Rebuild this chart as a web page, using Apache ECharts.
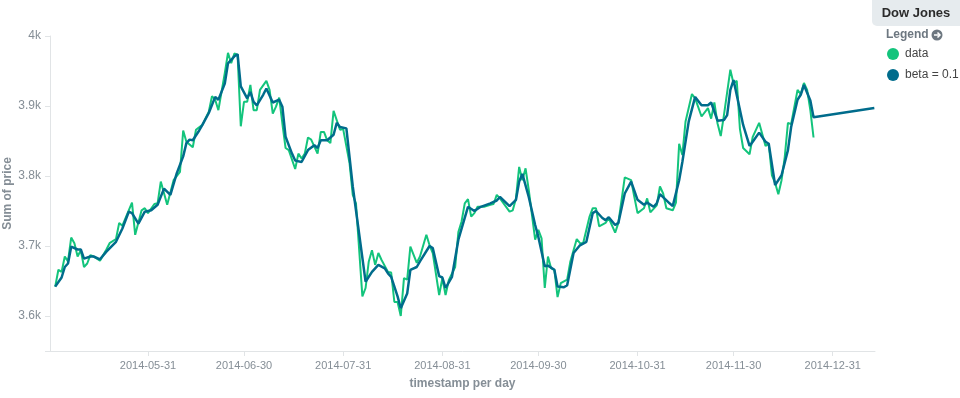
<!DOCTYPE html>
<html>
<head>
<meta charset="utf-8">
<style>
  html, body { margin: 0; padding: 0; background: #fff; }
  #chart { width: 960px; height: 398px; }
</style>
<script src="https://cdn.jsdelivr.net/npm/echarts@6/dist/echarts.min.js"></script>
</head>
<body>
<div id="chart"></div>
<script>
// daily "Sum of price" for the Dow Jones series
const dataDates = [
  '2014-05-02','2014-05-03','2014-05-04','2014-05-05','2014-05-06','2014-05-07','2014-05-08','2014-05-09','2014-05-10','2014-05-11','2014-05-12','2014-05-13','2014-05-14','2014-05-16','2014-05-18','2014-05-19','2014-05-21','2014-05-22','2014-05-23','2014-05-26','2014-05-27','2014-05-29','2014-05-30','2014-05-31',
  '2014-06-02','2014-06-03','2014-06-04','2014-06-06','2014-06-08','2014-06-10','2014-06-11','2014-06-12','2014-06-14','2014-06-15','2014-06-17','2014-06-19','2014-06-20','2014-06-21','2014-06-22','2014-06-24','2014-06-25','2014-06-26','2014-06-27','2014-06-28','2014-06-29','2014-06-30',
  '2014-07-01','2014-07-02','2014-07-03','2014-07-04','2014-07-05','2014-07-07','2014-07-08','2014-07-09','2014-07-10','2014-07-11','2014-07-12','2014-07-13','2014-07-14','2014-07-16','2014-07-17','2014-07-18','2014-07-19','2014-07-20','2014-07-21','2014-07-23','2014-07-24','2014-07-25','2014-07-26','2014-07-27','2014-07-28','2014-07-30','2014-07-31',
  '2014-08-02','2014-08-03','2014-08-04','2014-08-06','2014-08-07','2014-08-08','2014-08-09','2014-08-10','2014-08-11','2014-08-12','2014-08-14','2014-08-15','2014-08-16','2014-08-17','2014-08-18','2014-08-19','2014-08-20','2014-08-21','2014-08-23','2014-08-24','2014-08-26','2014-08-27','2014-08-28','2014-08-30','2014-08-31',
  '2014-09-01','2014-09-02','2014-09-04','2014-09-05','2014-09-06','2014-09-07','2014-09-08','2014-09-09','2014-09-10','2014-09-11','2014-09-13','2014-09-15','2014-09-16','2014-09-17','2014-09-18','2014-09-21','2014-09-22','2014-09-23','2014-09-24','2014-09-25','2014-09-26','2014-09-27','2014-09-29','2014-09-30',
  '2014-10-01','2014-10-02','2014-10-03','2014-10-04','2014-10-05','2014-10-06','2014-10-07','2014-10-09','2014-10-10','2014-10-12','2014-10-13','2014-10-14','2014-10-16','2014-10-17','2014-10-18','2014-10-19','2014-10-21','2014-10-22','2014-10-24','2014-10-25','2014-10-27','2014-10-29','2014-10-30','2014-10-31',
  '2014-11-02','2014-11-03','2014-11-04','2014-11-06','2014-11-07','2014-11-08','2014-11-09','2014-11-11','2014-11-12','2014-11-13','2014-11-14','2014-11-15','2014-11-17','2014-11-18','2014-11-20','2014-11-22','2014-11-23','2014-11-24','2014-11-25','2014-11-26','2014-11-27','2014-11-29','2014-11-30',
  '2014-12-01','2014-12-02','2014-12-03','2014-12-05','2014-12-06','2014-12-08','2014-12-10','2014-12-11','2014-12-12','2014-12-13','2014-12-14','2014-12-15','2014-12-16','2014-12-17','2014-12-18','2014-12-20','2014-12-21','2014-12-22','2014-12-23','2014-12-24','2014-12-25'
];
const dataValues = [
  3642,3666,3663,3685,3678,3712,3704,3685,3694,3670,3675,3687,3685,3679,3695,3704,3710,3733,3729,3762,3716,3751,3754,3747,
  3760,3761,3792,3759,3794,3806,3865,3849,3841,3866,3873,3892,3914,3909,3894,3947,3976,3961,3975,3973,3871,3906,
  3906,3930,3894,3894,3923,3936,3923,3889,3899,3912,3875,3840,3837,3810,3832,3825,3832,3855,3852,3832,3863,3863,3851,3847,3893,3866,3867,
  3818,3773,3761,3628,3640,3678,3694,3673,3690,3680,3663,3662,3620,3620,3600,3654,3652,3699,3676,3685,3716,3701,3690,3630,3654,
  3630,3651,3670,3720,3735,3761,3767,3742,3747,3756,3756,3759,3760,3773,3768,3749,3751,3768,3813,3794,3811,3780,3709,3723,
  3711,3640,3685,3668,3666,3627,3647,3652,3678,3710,3704,3704,3742,3754,3754,3728,3733,3740,3719,3733,3798,3794,3770,3747,
  3754,3768,3748,3758,3785,3775,3754,3751,3762,3846,3830,3878,3917,3911,3885,3897,3882,3905,3875,3857,3887,3952,3932,
  3936,3867,3840,3831,3856,3876,3843,3846,3801,3790,3774,3794,3827,3876,3874,3923,3917,3933,3923,3894,3855
];

// smoothed series (beta = 0.1), runs on past the data as a forecast
const betaDates = [
  '2014-05-02','2014-05-04','2014-05-05','2014-05-06','2014-05-07','2014-05-09','2014-05-10','2014-05-11','2014-05-13','2014-05-14','2014-05-16','2014-05-18','2014-05-21','2014-05-23','2014-05-25','2014-05-26','2014-05-28','2014-05-30',
  '2014-06-01','2014-06-03','2014-06-05','2014-06-07','2014-06-09','2014-06-11','2014-06-12','2014-06-13','2014-06-14','2014-06-16','2014-06-17','2014-06-19','2014-06-21','2014-06-22','2014-06-24','2014-06-25','2014-06-27','2014-06-28','2014-06-29',
  '2014-07-01','2014-07-02','2014-07-03','2014-07-04','2014-07-06','2014-07-07','2014-07-09','2014-07-11','2014-07-12','2014-07-13','2014-07-15','2014-07-16','2014-07-18','2014-07-20','2014-07-22','2014-07-23','2014-07-24','2014-07-26','2014-07-28','2014-07-29','2014-07-30',
  '2014-08-01','2014-08-03','2014-08-07','2014-08-09','2014-08-10','2014-08-11','2014-08-13','2014-08-14','2014-08-15','2014-08-17','2014-08-18','2014-08-20','2014-08-21','2014-08-23','2014-08-24','2014-08-27','2014-08-28','2014-08-30','2014-08-31',
  '2014-09-01','2014-09-03','2014-09-05','2014-09-08','2014-09-10','2014-09-12','2014-09-15','2014-09-17','2014-09-18','2014-09-21','2014-09-23','2014-09-24','2014-09-25','2014-09-27','2014-09-29','2014-09-30',
  '2014-10-02','2014-10-03','2014-10-05','2014-10-06','2014-10-08','2014-10-09','2014-10-11','2014-10-13','2014-10-15','2014-10-17','2014-10-18','2014-10-20','2014-10-21','2014-10-22','2014-10-24','2014-10-25','2014-10-27','2014-10-29','2014-10-31',
  '2014-11-02','2014-11-03','2014-11-05','2014-11-06','2014-11-07','2014-11-10','2014-11-11','2014-11-13','2014-11-14','2014-11-16','2014-11-18','2014-11-20','2014-11-22','2014-11-23','2014-11-25','2014-11-27','2014-11-28','2014-11-29','2014-11-30',
  '2014-12-03','2014-12-05','2014-12-06','2014-12-08','2014-12-10','2014-12-11','2014-12-13','2014-12-15','2014-12-17','2014-12-18','2014-12-20','2014-12-21','2014-12-22','2014-12-24','2014-12-25',
  '2015-01-13'
];
const betaValues = [
  3642,3655,3670,3675,3699,3695,3695,3682,3685,3685,3681,3692,3706,3725,3749,3747,3732,3749,
  3751,3759,3782,3773,3804,3828,3847,3852,3851,3865,3873,3890,3913,3909,3932,3961,3971,3974,3928,
  3911,3920,3906,3901,3916,3925,3905,3909,3899,3856,3832,3822,3820,3837,3844,3840,3851,3851,3859,3876,3870,
  3868,3785,3649,3663,3668,3673,3668,3661,3656,3628,3611,3632,3666,3670,3678,3700,3697,3657,3655,
  3640,3656,3709,3756,3750,3756,3761,3765,3770,3757,3766,3792,3803,3770,3730,3713,
  3671,3672,3666,3642,3641,3644,3690,3701,3706,3747,3750,3740,3737,3741,3730,3733,3775,3792,3766,
  3759,3762,3756,3761,3774,3761,3757,3794,3820,3878,3913,3901,3901,3905,3879,3880,3887,3923,3937,
  3873,3843,3849,3862,3849,3846,3787,3801,3837,3870,3909,3916,3930,3908,3884,
  3897
];

const xTickDates = ['2014-05-31','2014-06-30','2014-07-31','2014-08-31','2014-09-30','2014-10-31','2014-11-30','2014-12-31'];
const yTickValues = [3600, 3700, 3800, 3900, 4000];

const green = '#13c47c';
const blue = '#006c8c';
const muted = '#858e96';
const font = '"Liberation Sans", Arial, sans-serif';

function toTime(s) {
  const p = s.split('-').map(Number);
  return new Date(p[0], p[1] - 1, p[2]).getTime();
}
function fmtDate(t) {
  const d = new Date(t);
  const pad = n => String(n).padStart(2, '0');
  return d.getFullYear() + '-' + pad(d.getMonth() + 1) + '-' + pad(d.getDate());
}
const pairs = (dates, values) => dates.map((d, i) => [toTime(d), values[i]]);

const chart = echarts.init(document.getElementById('chart'), null, { renderer: 'canvas' });

chart.setOption({
  animation: false,
  backgroundColor: '#fff',
  textStyle: { fontFamily: font },
  grid: { left: 50, right: 85, top: 36, bottom: 47, containLabel: false, outerBoundsMode: 'none' },
  xAxis: {
    type: 'value',
    min: new Date(2014, 3, 30, 9).getTime(),
    max: new Date(2015, 0, 13, 5).getTime(),
    name: 'timestamp per day',
    nameLocation: 'middle',
    nameGap: 27,
    nameMoveOverlap: false,
    nameTextStyle: { color: muted, fontSize: 12, fontWeight: 'bold', fontFamily: font },
    axisLine: { lineStyle: { color: '#e1e4e6', width: 1 } },
    axisTick: { show: true, length: 5, customValues: xTickDates.map(toTime), lineStyle: { color: '#e1e4e6' } },
    axisLabel: {
      customValues: xTickDates.map(toTime),
      color: muted,
      fontSize: 11,
      margin: 9,
      formatter: v => fmtDate(v)
    },
    splitLine: { show: false }
  },
  yAxis: {
    type: 'value',
    min: 3550,
    max: 4000,
    name: 'Sum of price',
    nameLocation: 'middle',
    nameGap: 36,
    nameMoveOverlap: false,
    nameTextStyle: { color: muted, fontSize: 12, fontWeight: 'bold', fontFamily: font },
    axisLine: { show: true, lineStyle: { color: '#e1e4e6', width: 1 } },
    axisTick: { show: true, length: 5, customValues: yTickValues.concat([3550]), lineStyle: { color: '#e1e4e6' } },
    axisLabel: {
      customValues: yTickValues,
      color: muted,
      fontSize: 12,
      margin: 9,
      formatter: v => (v / 1000) + 'k'
    },
    splitLine: { show: false }
  },
  legend: {
    orient: 'vertical',
    left: 887,
    top: 48,
    padding: 0,
    icon: 'circle',
    itemWidth: 12,
    itemHeight: 12,
    itemGap: 9,
    textStyle: { color: '#444', fontSize: 12, fontFamily: font, padding: [0, 0, 0, 1] },
    data: ['data', 'beta = 0.1']
  },
  graphic: [
    { type: 'rect', shape: { x: 872, y: 0, width: 88, height: 26, r: [0, 0, 0, 5] }, style: { fill: '#e6ebee' } },
    { type: 'text', x: 916, y: 13, style: { text: 'Dow Jones', fill: '#2b2b2b', font: 'bold 13px ' + font, align: 'center', verticalAlign: 'middle' } },
    { type: 'text', x: 886, y: 35, style: { text: 'Legend', fill: '#6d7780', font: 'bold 12px ' + font, verticalAlign: 'middle' } },
    { type: 'circle', shape: { cx: 937, cy: 35, r: 5.5 }, style: { fill: '#6d7780' } },
    { type: 'polyline', shape: { points: [[934, 35], [940, 35]] }, style: { stroke: '#fff', lineWidth: 1.5 } },
    { type: 'polyline', shape: { points: [[937.5, 32.5], [940, 35], [937.5, 37.5]] }, style: { stroke: '#fff', lineWidth: 1.5, fill: null } }
  ],
  series: [
    {
      name: 'data',
      type: 'line',
      data: pairs(dataDates, dataValues),
      showSymbol: false,
      color: green,
      lineStyle: { width: 2, color: green }
    },
    {
      name: 'beta = 0.1',
      type: 'line',
      data: pairs(betaDates, betaValues),
      showSymbol: false,
      color: blue,
      lineStyle: { width: 2.5, color: blue }
    }
  ]
});
</script>
</body>
</html>
